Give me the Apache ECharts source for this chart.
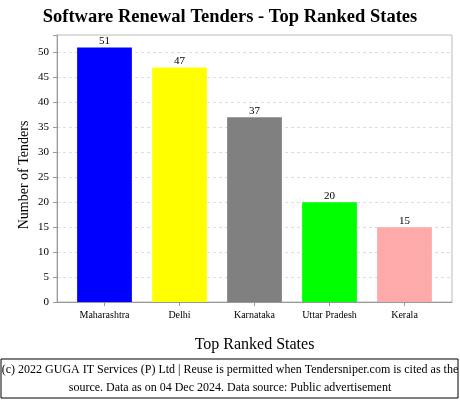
<!DOCTYPE html>
<html lang="en">
<head>
  <meta charset="utf-8">
  <title>Software Renewal Tenders - Top Ranked States</title>
  <style>
    html, body { margin: 0; padding: 0; background: #fff; }
    #chart { width: 460px; height: 400px; }
  </style>
</head>
<body>
  <div id="chart"></div>
  <script src="https://cdn.jsdelivr.net/npm/echarts@6/dist/echarts.min.js"></script>
  <script>
    const states = ['Maharashtra', 'Delhi', 'Karnataka', 'Uttar Pradesh', 'Kerala'];
    const tenders = [51, 47, 37, 20, 15];
    const barColors = ['#0000FF', '#FFFF00', '#808080', '#00FF00', '#FFAAAA'];

    const serif = '"Liberation Serif", "DejaVu Serif", serif';
    const yMax = 53.5;
    const chart = echarts.init(document.getElementById('chart'));

    // grid 0 = the outer plot box (frame, y axis, gridlines)
    // grid 1 = slightly inset band where the bars sit
    chart.setOption({
      animation: false,
      textStyle: { fontFamily: serif },
      title: {
        text: 'Software Renewal Tenders - Top Ranked States',
        left: 'center',
        top: 3,
        textStyle: { fontFamily: serif, fontSize: 18.5, fontWeight: 'bold', color: '#000' }
      },
      grid: [
        { left: 57, right: 8, top: 35, bottom: 98, show: true, borderColor: '#bbb', borderWidth: 1 },
        { left: 67, right: 18, top: 35, bottom: 98 }
      ],
      xAxis: [
        {
          gridIndex: 0, type: 'value', min: 0, max: 1,
          axisLine: { show: true, lineStyle: { color: '#999' } },
          axisTick: { show: false }, axisLabel: { show: false }, splitLine: { show: false }
        },
        {
          gridIndex: 1, type: 'category', data: states,
          name: 'Top Ranked States',
          nameLocation: 'middle',
          nameGap: 35,
          nameTextStyle: { fontFamily: serif, fontSize: 16, color: '#000' },
          axisLine: { show: false },
          axisTick: { show: true, alignWithLabel: true, length: 4, lineStyle: { color: '#999' } },
          axisLabel: { fontFamily: serif, fontSize: 10, color: '#000', margin: 8, interval: 0 }
        }
      ],
      yAxis: [
        {
          gridIndex: 0, type: 'value', min: 0, max: yMax, interval: 5,
          axisLine: { show: true, lineStyle: { color: '#999' } },
          axisTick: { show: true, length: 4, lineStyle: { color: '#999' } },
          axisLabel: {
            fontFamily: serif, fontSize: 11, color: '#000', margin: 8,
            formatter: v => (v % 5 === 0 ? v : '')
          },
          splitLine: { lineStyle: { color: '#ddd', type: [3, 3] } }
        },
        {
          gridIndex: 1, type: 'value', min: 0, max: yMax, show: false
        }
      ],
      series: [{
        type: 'bar',
        xAxisIndex: 1,
        yAxisIndex: 1,
        barWidth: '73%',
        data: tenders.map((v, i) => ({ value: v, itemStyle: { color: barColors[i] } })),
        label: {
          show: true, position: 'top', distance: 1,
          fontFamily: serif, fontSize: 11, color: '#000'
        }
      }],
      graphic: [
        {
          type: 'text',
          x: 24, y: 175,
          rotation: Math.PI / 2,
          style: {
            text: 'Number of Tenders',
            font: '14px ' + serif, fill: '#000', align: 'center', verticalAlign: 'middle'
          }
        },
        {
          type: 'rect',
          shape: { x: 1, y: 359, width: 457, height: 39 },
          style: { fill: '#fff', stroke: '#000', lineWidth: 1 }
        },
        {
          type: 'text',
          x: 230, y: 370,
          style: {
            text: '(c) 2022 GUGA IT Services (P) Ltd | Reuse is permitted when Tendersniper.com is cited as the',
            font: '12px ' + serif, fill: '#000', align: 'center', verticalAlign: 'middle'
          }
        },
        {
          type: 'text',
          x: 230, y: 388,
          style: {
            text: 'source. Data as on 04 Dec 2024. Data source: Public advertisement',
            font: '12px ' + serif, fill: '#000', align: 'center', verticalAlign: 'middle'
          }
        }
      ]
    });
  </script>
</body>
</html>
